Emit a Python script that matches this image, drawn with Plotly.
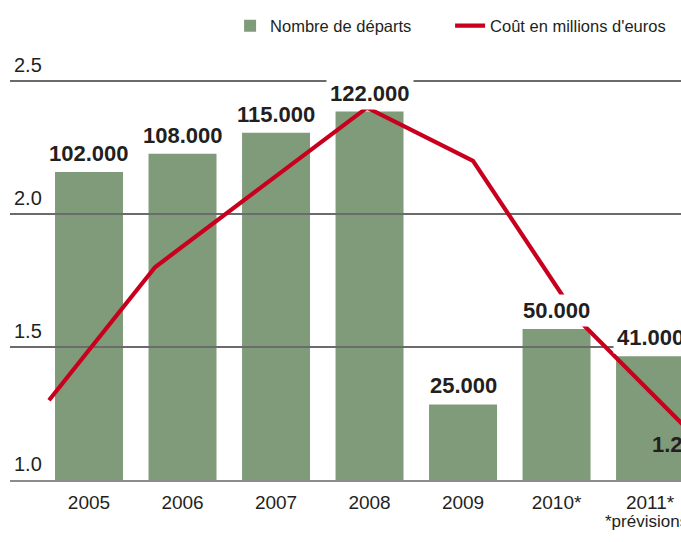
import plotly.graph_objects as go

years = ["2005", "2006", "2007", "2008", "2009", "2010*", "2011*"]
departs = [102000, 108000, 115000, 122000, 25000, 50000, 41000]
cost = [1.3, 1.8, 2.1, 2.4, 2.2, 1.6, 1.2]
cost_ticks = [1.0, 1.5, 2.0, 2.5]
cost_tick_text = ["1.0", "1.5", "2.0", "2.5"]

FONT = "Liberation Sans, Arial, sans-serif"
TXT = "#231f20"
GREEN = "#7f9b7a"
RED = "#c8001e"
GRID = "#6b6b6b"

fig = go.Figure()
fig.add_trace(go.Bar(
    x=years, y=departs, name="Nombre de départs",
    marker=dict(color=GREEN, line=dict(width=0)),
    xaxis="x", yaxis="y", hoverinfo="skip",
))
fig.add_trace(go.Scatter(
    x=years, y=cost, name="Coût en millions d'euros", mode="lines",
    line=dict(color=RED, width=4.2),
    xaxis="x2", yaxis="y2", hoverinfo="skip",
))

def fmt(v):
    return f"{v:,}".replace(",", ".")

for i, v in enumerate(departs):
    fig.add_annotation(
        x=i, y=v, xref="x", yref="y", text=fmt(v), showarrow=False,
        yanchor="bottom", yshift=2, bgcolor="white", borderpad=3,
        font=dict(family=FONT, size=22, color=TXT, weight="bold"),
    )

fig.add_annotation(
    x=len(years) - 1, y=cost[-1], xref="x", yref="y2", text=f"{cost[-1]:.1f}",
    showarrow=False, xanchor="left", yanchor="top", yshift=-3,
    font=dict(family=FONT, size=22, color=TXT, weight="bold"),
)
fig.add_annotation(
    x=0.884, y=-0.0943, xref="paper", yref="paper", text="*prévisions",
    showarrow=False, xanchor="left", yanchor="middle",
    font=dict(family=FONT, size=17, color=TXT),
)

fig.update_layout(
    width=681, height=542,
    margin=dict(l=10, r=0, t=45, b=62),
    paper_bgcolor="white", plot_bgcolor="rgba(0,0,0,0)",
    bargap=0.273,
    showlegend=True,
    hovermode=False,
    legend=dict(orientation="h", x=0.328, xanchor="left", y=1.0437, yanchor="middle",
                entrywidth=175, entrywidthmode="pixels",
                font=dict(family=FONT, size=16.5, color=TXT), bgcolor="rgba(0,0,0,0)"),
    xaxis=dict(type="category", categoryarray=years, categoryorder="array",
               range=[-0.845, 6.331], domain=[0, 1], anchor="y",
               showline=True, linecolor="#8c8c8c", linewidth=1.5, ticks="",
               ticklabelstandoff=5,
               showgrid=False, tickfont=dict(family=FONT, size=19, color=TXT),
               fixedrange=True),
    yaxis=dict(range=[0, 144018], domain=[0, 1], anchor="x", visible=False,
               showgrid=False, zeroline=False, fixedrange=True),
    xaxis2=dict(type="category", categoryarray=years, categoryorder="array",
                range=[-0.368, 5.962], domain=[0, 1], anchor="y2", visible=False,
                showgrid=False, fixedrange=True),
    yaxis2=dict(range=[1.0, 2.6353], domain=[0, 1], anchor="x2",
                tickvals=cost_ticks, ticktext=cost_tick_text,
                showgrid=True, gridcolor=GRID, gridwidth=1.5, zeroline=False,
                ticks="", ticklabelposition="inside", ticklabelshift=-16,
                ticklabelstandoff=1, showline=False,
                tickfont=dict(family=FONT, size=20, color=TXT), fixedrange=True),
)

fig.write_html(
    "out.html",
    config={"displayModeBar": False, "staticPlot": True},
    post_script=(
        "document.body.style.margin='0';"
        "document.documentElement.style.overflow='hidden';"
        "document.body.style.overflow='hidden';"
    ),
)
